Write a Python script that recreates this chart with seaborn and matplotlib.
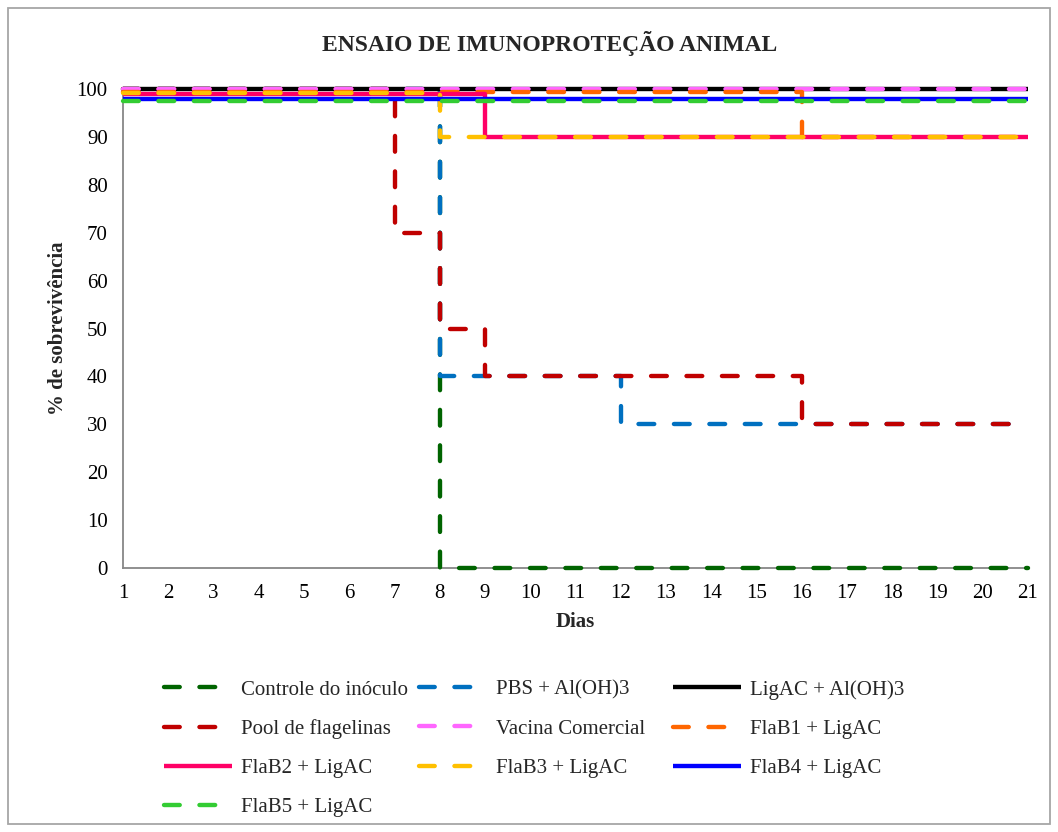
import matplotlib
matplotlib.use("Agg")
import matplotlib.pyplot as plt
import seaborn as sns
import pandas as pd
from matplotlib.patches import Rectangle

# ---------------- data ----------------
days = [1, 2, 3, 4, 5, 6, 7, 8, 9, 10, 11, 12, 13, 14, 15, 16, 17, 18, 19, 20, 21]

series_names = [
    "Controle do inóculo", "PBS + Al(OH)3", "LigAC + Al(OH)3",
    "Pool de flagelinas", "Vacina Comercial", "FlaB1 + LigAC",
    "FlaB2 + LigAC", "FlaB3 + LigAC", "FlaB4 + LigAC", "FlaB5 + LigAC",
]

controle = [100, 100, 100, 100, 100, 100, 100, 0, 0, 0, 0, 0, 0, 0, 0, 0, 0, 0, 0, 0, 0]
pbs      = [100, 100, 100, 100, 100, 100, 100, 40, 40, 40, 40, 30, 30, 30, 30, 30, 30, 30, 30, 30, 30]
ligac    = [100, 100, 100, 100, 100, 100, 100, 100, 100, 100, 100, 100, 100, 100, 100, 100, 100, 100, 100, 100, 100]
pool     = [100, 100, 100, 100, 100, 100, 70, 50, 40, 40, 40, 40, 40, 40, 40, 30, 30, 30, 30, 30, 30]
vacina   = [100, 100, 100, 100, 100, 100, 100, 100, 100, 100, 100, 100, 100, 100, 100, 100, 100, 100, 100, 100, 100]
flab1    = [99.4, 99.4, 99.4, 99.4, 99.4, 99.4, 99.4, 99.4, 99.4, 99.4, 99.4, 99.4, 99.4, 99.4, 99.4, 90, 90, 90, 90, 90, 90]
flab2    = [99, 99, 99, 99, 99, 99, 99, 99, 90, 90, 90, 90, 90, 90, 90, 90, 90, 90, 90, 90, 90]
flab3    = [99.2, 99.2, 99.2, 99.2, 99.2, 99.2, 99.2, 90, 90, 90, 90, 90, 90, 90, 90, 90, 90, 90, 90, 90, 90]
flab4    = [98, 98, 98, 98, 98, 98, 98, 98, 98, 98, 98, 98, 98, 98, 98, 98, 98, 98, 98, 98, 98]
flab5    = [97.5, 97.5, 97.5, 97.5, 97.5, 97.5, 97.5, 97.5, 97.5, 97.5, 97.5, 97.5, 97.5, 97.5, 97.5, 97.5, 97.5, 97.5, 97.5, 97.5, 97.5]

series_values = [controle, pbs, ligac, pool, vacina, flab1, flab2, flab3, flab4, flab5]

colors = ["#006400", "#0070C0", "#000000", "#C00000", "#FF66FF",
          "#FF6600", "#FF0066", "#FFC000", "#0000FF", "#33CC33"]
dashed = [True, True, False, True, True, True, False, True, False, True]

yticks = [0, 10, 20, 30, 40, 50, 60, 70, 80, 90, 100]

title = "ENSAIO DE IMUNOPROTEÇÃO ANIMAL"
xlabel = "Dias"
ylabel = "% de sobrevivência"

# ---------------- style ----------------
sns.set_theme(style="white")
plt.rcParams["font.family"] = ["Liberation Serif", "DejaVu Serif"]

W, H = 1058, 832
fig = plt.figure(figsize=(W / 100, H / 100), dpi=100)
fig.patch.set_facecolor("white")
ax = fig.add_axes([123 / W, 1 - 567.7 / H, (1028 - 123) / W, (567.7 - 89.5) / H])

LW = 3.15
DASH = (0, (3.6, 4.5))

long = []
for name, vals in zip(series_names, series_values):
    for d, v in zip(days, vals):
        long.append({"Dias": d, "valor": v, "serie": name})
df = pd.DataFrame(long)

lines = []
for name, col, dsh in zip(series_names, colors, dashed):
    sub = df[df["serie"] == name]
    sns.lineplot(data=sub, x="Dias", y="valor", color=col, lw=LW,
                 drawstyle="steps-post", linestyle=DASH if dsh else "-",
                 dash_capstyle="round", solid_capstyle="butt",
                 legend=False, ax=ax, clip_on=False, zorder=3)
    lines.append(ax.get_lines()[-1])

ax.set_xlim(days[0], days[-1])
ax.set_ylim(0, 100)
ax.set_xticks(days)
ax.set_xticklabels([str(d) for d in days])
ax.set_yticks(yticks)
ax.set_yticklabels([str(t) for t in yticks])

for s in ["top", "right"]:
    ax.spines[s].set_visible(False)
for s in ["left", "bottom"]:
    ax.spines[s].set_color("#878787")
    ax.spines[s].set_linewidth(1.3)
ax.tick_params(axis="both", direction="in", length=4.5, width=1.1, color="#878787",
               labelsize=15, labelcolor="black", pad=11)
ax.tick_params(axis="x", pad=12)
ax.grid(False)

ax.set_xlabel(xlabel, fontsize=15, fontweight="bold", labelpad=6)
ax.set_ylabel(ylabel, fontsize=15, fontweight="bold", labelpad=6)

fig.text(550 / W, 1 - 44 / H, title, ha="center", va="center",
         fontsize=17, fontweight="bold")

# legend: three equal-width columns (row-wise fill as in the reference)
col_x = [164, 419, 673]
for c in range(3):
    idx = list(range(c, len(series_names), 3))
    fig.legend([lines[i] for i in idx], [series_names[i] for i in idx],
               loc="upper left", bbox_to_anchor=(col_x[c] / W, 1 - 680 / H),
               frameon=False, fontsize=15, handlelength=3.26, handletextpad=0.43,
               labelspacing=0.94, borderpad=0, borderaxespad=0)

fig.patches.append(Rectangle((8 / W, 8 / H), (W - 16) / W, (H - 16) / H,
                             transform=fig.transFigure, fill=False,
                             edgecolor="#A6A6A6", lw=1.3))

fig.savefig("out.png", dpi=100, facecolor="white")
